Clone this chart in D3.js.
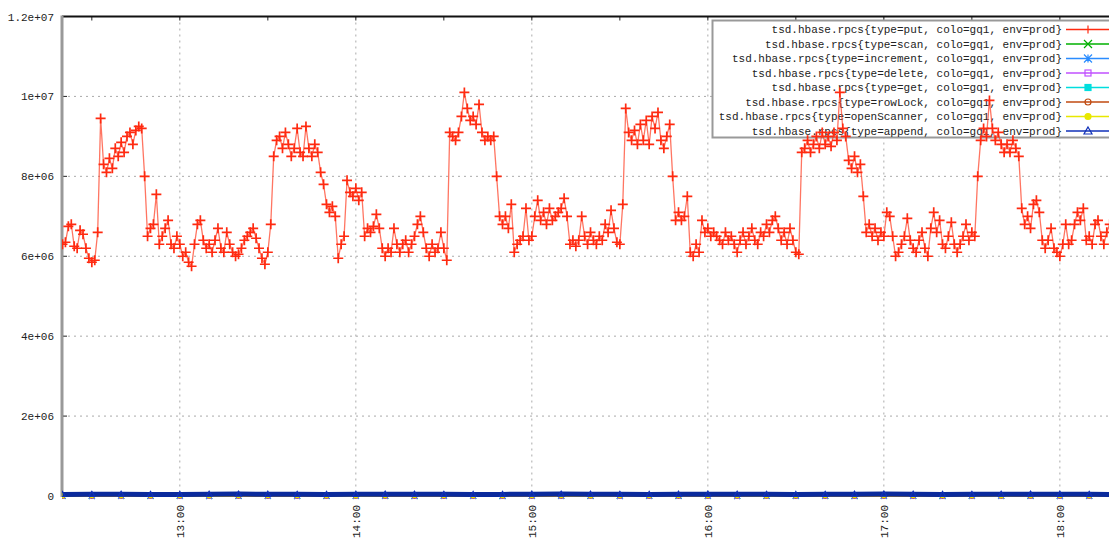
<!DOCTYPE html>
<html>
<head>
<meta charset="utf-8">
<script src="https://cdn.jsdelivr.net/npm/d3@7"></script>
<style>
  body { margin: 0; background: #fff; }
  svg text { font-family: "Liberation Mono", "DejaVu Sans Mono", monospace; font-size: 11px; fill: #222; }
</style>
</head>
<body>
<div id="chart"></div>
<script>
// ---- data ----
// put series: one sample per minute starting 12:20, values in millions
const putStart = "12:20";
const putValues = [
  6.30, 6.35, 6.75, 6.80, 6.25, 6.20, 6.65, 6.55, 6.20, 5.95,
  5.85, 5.90, 6.60, 9.45, 8.30, 8.10, 8.45, 8.20, 8.70, 8.50,
  8.85, 8.60, 9.00, 9.10, 8.80, 9.15, 9.25, 9.20, 8.00, 6.50,
  6.70, 6.80, 7.55, 6.30, 6.50, 6.70, 6.90, 6.30, 6.20, 6.50,
  6.30, 6.00, 6.10, 5.85, 5.75, 6.30, 6.80, 6.90, 6.40, 6.20,
  6.30, 6.10, 6.40, 6.70, 6.20, 6.10, 6.60, 6.30, 6.10, 6.00,
  6.05, 6.20, 6.40, 6.50, 6.60, 6.70, 6.45, 6.20, 5.95, 5.80,
  6.10, 6.80, 8.50, 8.90, 9.00, 8.70, 9.10, 8.80, 8.50, 8.70,
  9.20, 8.60, 8.50, 9.25, 8.70, 8.50, 8.80, 8.60, 8.10, 7.80,
  7.30, 7.10, 7.25, 7.00, 5.95, 6.30, 6.50, 7.90, 7.60, 7.50,
  7.70, 7.40, 7.60, 6.50, 6.70, 6.60, 6.75, 7.05, 6.70, 6.20,
  6.00, 6.20, 6.10, 6.70, 6.30, 6.10, 6.30, 6.40, 6.10, 6.30,
  6.50, 6.80, 7.00, 6.60, 6.20, 6.00, 6.30, 6.10, 6.20, 6.60,
  6.20, 5.90, 9.10, 9.00, 8.90, 9.10, 9.50, 10.10, 9.70, 9.40,
  9.50, 9.30, 9.80, 9.10, 8.90, 9.00, 8.90, 9.00, 8.00, 7.00,
  6.80, 7.00, 6.70, 7.30, 6.10, 6.30, 6.40, 6.50, 7.20, 6.40,
  6.50, 7.00, 7.40, 6.90, 7.10, 6.80, 7.20, 6.90, 7.00, 7.10,
  7.20, 7.45, 7.00, 6.30, 6.40, 6.25, 6.40, 7.00, 6.50, 6.30,
  6.60, 6.40, 6.30, 6.50, 6.40, 6.80, 6.60, 7.15, 6.70, 6.35,
  6.30, 7.30, 9.70, 9.10, 8.90, 9.15, 8.80, 9.30, 8.90, 9.40,
  8.80, 9.50, 9.20, 9.60, 8.90, 8.70, 9.00, 9.30, 8.00, 6.90,
  7.10, 6.90, 7.00, 7.50, 6.10, 6.00, 6.30, 6.10, 6.90, 6.60,
  6.70, 6.50, 6.60, 6.50, 6.40, 6.30, 6.60, 6.40, 6.50, 6.30,
  6.10, 6.40, 6.60, 6.30, 6.50, 6.70, 6.40, 6.30, 6.60, 6.50,
  6.80, 6.60, 6.90, 7.00, 6.70, 6.40, 6.60, 6.30, 6.70, 6.40,
  6.10, 6.05, 8.60, 8.70, 8.90, 8.60, 8.80, 9.00, 8.70, 9.10,
  8.80, 9.00, 8.75, 9.10, 8.90, 10.10, 9.20, 9.00, 8.40, 8.20,
  8.50, 8.10, 8.30, 7.50, 6.60, 6.80, 6.50, 6.70, 6.40, 6.60,
  6.50, 7.10, 7.00, 6.50, 6.00, 6.10, 6.30, 6.50, 6.95, 6.40,
  6.20, 6.10, 6.40, 6.60, 6.20, 6.00, 6.70, 7.10, 6.60, 6.90,
  6.30, 6.20, 6.50, 6.85, 6.30, 6.10, 6.30, 6.50, 6.80, 6.40,
  6.60, 6.50, 8.00, 8.90, 9.20, 9.00, 9.90, 9.20, 8.90, 9.10,
  8.80, 8.60, 8.80, 8.60, 8.90, 8.70, 8.50, 7.20, 6.80, 7.00,
  6.70, 7.30, 7.40, 7.10, 6.40, 6.20, 6.40, 6.70, 6.20, 6.10,
  6.00, 6.30, 6.80, 6.30, 6.40, 6.80, 7.10, 6.90, 7.20, 6.40,
  6.50, 6.30, 6.80, 6.90, 6.50, 6.30, 6.60, 6.80
];

// the other series sit near zero: one sample every 10 minutes from 12:20, values in thousands
const lowStart = "12:20";
const scanK        = [4,6,3,5,7,4,5,3,6,5,4,7,5,6,4,3,5,6,4,5,7,6,4,5,3,6,5,4,6,5,7,4,5,6,4,5,6];
const incrementK   = [2,1,3,2,2,1,2,3,1,2,2,3,1,2,2,1,3,2,2,1,2,3,2,1,2,2,3,1,2,2,1,3,2,2,1,2,2];
const deleteK      = [0,1,0,0,1,0,0,1,0,0,0,1,0,0,1,0,0,0,1,0,0,1,0,0,0,1,0,0,1,0,0,0,1,0,0,1,0];
const getK         = [18,22,25,20,19,24,28,26,21,20,23,27,24,22,19,21,26,29,25,22,20,23,27,25,21,19,22,26,28,24,21,20,24,27,25,22,20];
const rowLockK     = [0,0,0,0,0,0,0,0,0,0,0,0,0,0,0,0,0,0,0,0,0,0,0,0,0,0,0,0,0,0,0,0,0,0,0,0,0];
const openScannerK = [9,12,10,11,14,9,10,13,12,10,9,11,13,12,10,11,14,12,9,10,12,13,11,10,9,12,14,11,10,12,13,10,9,11,12,10,11];
const appendK      = [38,42,45,40,39,44,47,43,41,40,42,46,44,41,39,40,45,48,44,42,40,43,46,44,41,39,42,45,47,43,40,41,44,46,43,41,40];

const seriesTypes   = ["put", "scan", "increment", "delete", "get", "rowLock", "openScanner", "append"];
const seriesColors  = ["#ff2a10", "#00b000", "#2a8cff", "#c050ff", "#00dede", "#c04a10", "#e8e800", "#1030b8"];
const seriesMarkers = ["plus", "cross", "star", "square", "squareFill", "circle", "circleFill", "triangle"];

const yTicks = [0, 2e6, 4e6, 6e6, 8e6, 1e7, 1.2e7];
const yTickLabels = ["0", "2e+06", "4e+06", "6e+06", "8e+06", "1e+07", "1.2e+07"];
const xHours = ["13:00", "14:00", "15:00", "16:00", "17:00", "18:00"];

// ---- layout ----
const W = 1109, H = 538;
const plotLeft = 62, plotTop = 16.5, plotBottom = 496;
const parseT = d3.timeParse("%H:%M:%S");
const hm = s => parseT(s + ":00");

const svg = d3.select("#chart").append("svg")
  .attr("width", W)
  .attr("height", H);

const xScale = d3.scaleTime()
  .domain([parseT("12:19:50"), parseT("18:16:45")])
  .range([plotLeft, W]);

const yScale = d3.scaleLinear()
  .domain([0, 1.2e7])
  .range([plotBottom, plotTop]);

// grid
const grid = svg.append("g");
grid.selectAll(".hg")
  .data(yTicks.slice(1, -1))
  .enter().append("line")
  .attr("x1", plotLeft).attr("x2", W)
  .attr("y1", d => yScale(d)).attr("y2", d => yScale(d))
  .attr("stroke", "#aaa").attr("stroke-dasharray", "2,4");
grid.selectAll(".vg")
  .data(xHours)
  .enter().append("line")
  .attr("x1", d => xScale(hm(d))).attr("x2", d => xScale(hm(d)))
  .attr("y1", plotTop).attr("y2", plotBottom)
  .attr("stroke", "#aaa").attr("stroke-dasharray", "2,4");

// y axis labels
const yAxis = svg.append("g")
  .attr("transform", `translate(${plotLeft},0)`)
  .call(d3.axisLeft(yScale).tickValues(yTicks).tickSize(0).tickPadding(8)
    .tickFormat((d, i) => yTickLabels[i]));
yAxis.select(".domain").remove();
yAxis.attr("font-family", null).attr("font-size", null);
// inner ticks on the left border
svg.selectAll(".ytick")
  .data(yTicks)
  .enter().append("line")
  .attr("x1", plotLeft).attr("x2", plotLeft + 5)
  .attr("y1", d => yScale(d)).attr("y2", d => yScale(d))
  .attr("stroke", "#222");

// x axis labels, rotated
const xAxis = svg.append("g")
  .attr("transform", `translate(0,${plotBottom})`)
  .call(d3.axisBottom(xScale).tickValues(xHours.map(hm)).tickSize(0)
    .tickFormat(d3.timeFormat("%H:%M")));
xAxis.select(".domain").remove();
xAxis.attr("font-family", null).attr("font-size", null);
xAxis.selectAll("text")
  .attr("transform", "rotate(-90)")
  .attr("text-anchor", "end")
  .attr("x", -9)
  .attr("y", 0)
  .attr("dy", "0.35em");

// half hour ticks on the top border
const halfHours = d3.timeMinute.every(30).range(parseT("12:30:00"), parseT("18:30:00"));
svg.selectAll(".ttick")
  .data(halfHours)
  .enter().append("line")
  .attr("x1", d => xScale(d)).attr("x2", d => xScale(d))
  .attr("y1", plotTop).attr("y2", plotTop + 4)
  .attr("stroke", "#222");

// frame
svg.append("line").attr("x1", plotLeft).attr("x2", W).attr("y1", plotTop).attr("y2", plotTop)
  .attr("stroke", "#111").attr("stroke-width", 2);
svg.append("line").attr("x1", plotLeft).attr("x2", plotLeft).attr("y1", plotTop - 1).attr("y2", plotBottom + 1)
  .attr("stroke", "#999").attr("stroke-width", 3);

// ---- markers ----
function marker(g, kind, x, y, color, s, sw) {
  const h = s / 2;
  const w = sw || 1.2;
  if (kind === "plus") {
    g.append("path").attr("d", `M${x - h},${y}H${x + h}M${x},${y - h}V${y + h}`)
      .attr("stroke", color).attr("stroke-width", w).attr("fill", "none");
  } else if (kind === "cross") {
    g.append("path").attr("d", `M${x - h},${y - h}L${x + h},${y + h}M${x - h},${y + h}L${x + h},${y - h}`)
      .attr("stroke", color).attr("stroke-width", w).attr("fill", "none");
  } else if (kind === "star") {
    g.append("path").attr("d", `M${x - h},${y}H${x + h}M${x},${y - h}V${y + h}M${x - h},${y - h}L${x + h},${y + h}M${x - h},${y + h}L${x + h},${y - h}`)
      .attr("stroke", color).attr("stroke-width", w).attr("fill", "none");
  } else if (kind === "square" || kind === "squareFill") {
    g.append("rect").attr("x", x - h + 1).attr("y", y - h + 1).attr("width", s - 2).attr("height", s - 2)
      .attr("stroke", color).attr("stroke-width", w)
      .attr("fill", kind === "squareFill" ? color : "none");
  } else if (kind === "circle" || kind === "circleFill") {
    g.append("circle").attr("cx", x).attr("cy", y).attr("r", h - 1)
      .attr("stroke", color).attr("stroke-width", w)
      .attr("fill", kind === "circleFill" ? color : "none");
  } else if (kind === "triangle") {
    g.append("path").attr("d", `M${x},${y - h}L${x + h},${y + h - 1}L${x - h},${y + h - 1}Z`)
      .attr("stroke", color).attr("stroke-width", w).attr("fill", "none");
  }
}

// ---- legend (drawn under the data) ----
const legend = svg.append("g");
legend.append("rect")
  .attr("x", 712.5).attr("y", 20.5).attr("width", 420).attr("height", 117)
  .attr("fill", "#fff").attr("stroke", "#999").attr("stroke-width", 2);
seriesTypes.forEach((t, i) => {
  const ly = 29.5 + i * 14.5;
  legend.append("text")
    .attr("x", 1062).attr("y", ly).attr("dy", "0.35em")
    .attr("text-anchor", "end")
    .text(`tsd.hbase.rpcs{type=${t}, colo=gq1, env=prod}`);
  legend.append("line")
    .attr("x1", 1066).attr("x2", 1112).attr("y1", ly).attr("y2", ly)
    .attr("stroke", seriesColors[i]).attr("stroke-width", 1.3);
  marker(legend, seriesMarkers[i], 1088, ly, seriesColors[i], 8);
});

// ---- data ----
svg.append("clipPath").attr("id", "plotClip")
  .append("rect").attr("x", plotLeft).attr("y", plotTop - 6).attr("width", W - plotLeft).attr("height", plotBottom - plotTop + 10);
const plot = svg.append("g").attr("clip-path", "url(#plotClip)");

const line = d3.line().x(d => xScale(d.t)).y(d => yScale(d.v));

// low series first
const lowSeries = [scanK, incrementK, deleteK, getK, rowLockK, openScannerK, appendK];
const lowT0 = hm(lowStart);
lowSeries.forEach((vals, k) => {
  const i = k + 1;
  const pts = vals.map((v, j) => ({ t: d3.timeMinute.offset(lowT0, j * 10), v: v * 1000 }));
  const isAppend = seriesTypes[i] === "append";
  plot.append("path").datum(pts)
    .attr("d", line)
    .attr("fill", "none")
    .attr("stroke", isAppend ? "#0a2a9c" : seriesColors[i])
    .attr("stroke-width", isAppend ? 5 : 2);
  const mg = plot.append("g");
  pts.forEach(p => marker(mg, seriesMarkers[i], xScale(p.t), yScale(p.v), seriesColors[i], 6));
});

// put series
const putT0 = hm(putStart);
const putPts = putValues.map((v, j) => ({ t: d3.timeMinute.offset(putT0, j), v: v * 1e6 }));
plot.append("path").datum(putPts)
  .attr("d", line)
  .attr("fill", "none")
  .attr("stroke", "#ff3a20")
  .attr("stroke-opacity", 0.7)
  .attr("stroke-width", 1.3);
const pg = plot.append("g");
putPts.forEach(p => marker(pg, "plus", xScale(p.t), yScale(p.v), seriesColors[0], 10, 1.7));
</script>
</body>
</html>
